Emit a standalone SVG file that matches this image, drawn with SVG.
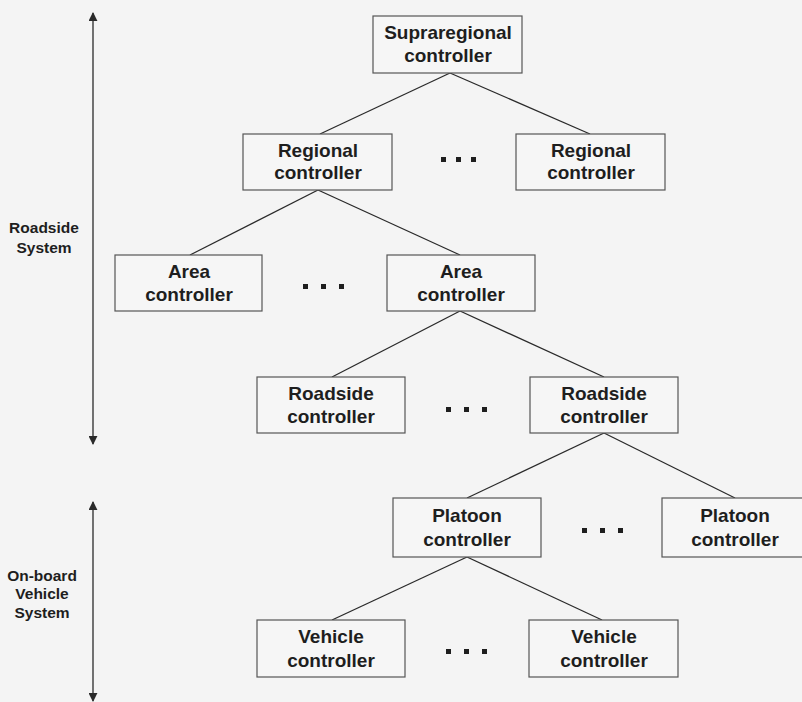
<svg xmlns="http://www.w3.org/2000/svg" width="802" height="702" viewBox="0 0 802 702">
  <defs>
    <marker id="head" viewBox="0 0 10 10" refX="9" refY="5" markerWidth="9" markerHeight="9" markerUnits="userSpaceOnUse" orient="auto-start-reverse">
      <path d="M0,0 L10,5 L0,10 z" fill="#2a2a2a"/>
    </marker>
    <style>
      .box { fill: #f6f6f6; stroke: #555; stroke-width: 1.2; }
      .lbl { font-family: "Liberation Sans", Arial, sans-serif; font-weight: bold; font-size: 19px; fill: #1e1e1e; text-anchor: middle; }
      .side { font-family: "Liberation Sans", Arial, sans-serif; font-weight: bold; font-size: 15.5px; fill: #1e1e1e; text-anchor: middle; }
      .dots { fill: #1e1e1e; }
      .link { stroke: #2a2a2a; stroke-width: 1.3; fill: none; }
      .span { stroke: #2a2a2a; stroke-width: 1.3; fill: none; marker-start: url(#head); marker-end: url(#head); }
    </style>
  </defs>

  <rect width="802" height="702" fill="#f4f4f4"/>

  <!-- tree edges -->
  <g id="connectors">
    <line class="link" x1="450" y1="73" x2="320" y2="134"/>
    <line class="link" x1="450" y1="73" x2="590" y2="134"/>
    <line class="link" x1="318" y1="190" x2="190" y2="255"/>
    <line class="link" x1="318" y1="190" x2="460" y2="255"/>
    <line class="link" x1="460" y1="311" x2="332" y2="377"/>
    <line class="link" x1="460" y1="311" x2="604" y2="377"/>
    <line class="link" x1="604" y1="433" x2="467" y2="498"/>
    <line class="link" x1="604" y1="433" x2="735" y2="498"/>
    <line class="link" x1="467" y1="557" x2="332" y2="620"/>
    <line class="link" x1="467" y1="557" x2="602" y2="620"/>
    <!-- system span arrows -->
    <line class="span" x1="93" y1="13" x2="93" y2="444"/>
    <line class="span" x1="93" y1="502" x2="93" y2="701"/>
  </g>

  <g id="label-roadside">
    <text class="side" x="44" y="233">Roadside</text>
    <text class="side" x="44" y="253">System</text>
  </g>
  <g id="label-onboard">
    <text class="side" x="42" y="581">On-board</text>
    <text class="side" x="42" y="599">Vehicle</text>
    <text class="side" x="42" y="618">System</text>
  </g>

  <g id="supraregional">
    <rect class="box" x="373" y="16" width="149" height="57"/>
    <text class="lbl" x="448" y="39">Supraregional</text>
    <text class="lbl" x="448" y="62">controller</text>
  </g>

  <g id="regional-1">
    <rect class="box" x="243" y="134" width="149" height="56"/>
    <text class="lbl" x="318" y="157">Regional</text>
    <text class="lbl" x="318" y="179">controller</text>
  </g>
  <g id="regional-dots" class="dots">
    <rect x="441" y="157" width="5" height="5"/>
    <rect x="456" y="157" width="5" height="5"/>
    <rect x="471" y="157" width="5" height="5"/>
  </g>
  <g id="regional-n">
    <rect class="box" x="516" y="134" width="149" height="56"/>
    <text class="lbl" x="591" y="157">Regional</text>
    <text class="lbl" x="591" y="179">controller</text>
  </g>

  <g id="area-1">
    <rect class="box" x="115" y="255" width="147" height="56"/>
    <text class="lbl" x="189" y="278">Area</text>
    <text class="lbl" x="189" y="301">controller</text>
  </g>
  <g id="area-dots" class="dots">
    <rect x="303" y="284" width="5" height="5"/>
    <rect x="321" y="284" width="5" height="5"/>
    <rect x="339" y="284" width="5" height="5"/>
  </g>
  <g id="area-n">
    <rect class="box" x="387" y="255" width="148" height="56"/>
    <text class="lbl" x="461" y="278">Area</text>
    <text class="lbl" x="461" y="301">controller</text>
  </g>

  <g id="roadside-1">
    <rect class="box" x="257" y="377" width="148" height="56"/>
    <text class="lbl" x="331" y="400">Roadside</text>
    <text class="lbl" x="331" y="423">controller</text>
  </g>
  <g id="roadside-dots" class="dots">
    <rect x="446" y="407" width="5" height="5"/>
    <rect x="464" y="407" width="5" height="5"/>
    <rect x="482" y="407" width="5" height="5"/>
  </g>
  <g id="roadside-n">
    <rect class="box" x="530" y="377" width="148" height="56"/>
    <text class="lbl" x="604" y="400">Roadside</text>
    <text class="lbl" x="604" y="423">controller</text>
  </g>

  <g id="platoon-1">
    <rect class="box" x="393" y="498" width="148" height="59"/>
    <text class="lbl" x="467" y="522">Platoon</text>
    <text class="lbl" x="467" y="546">controller</text>
  </g>
  <g id="platoon-dots" class="dots">
    <rect x="582" y="528" width="5" height="5"/>
    <rect x="600" y="528" width="5" height="5"/>
    <rect x="618" y="528" width="5" height="5"/>
  </g>
  <g id="platoon-n">
    <rect class="box" x="662" y="498" width="150" height="59"/>
    <text class="lbl" x="735" y="522">Platoon</text>
    <text class="lbl" x="735" y="546">controller</text>
  </g>

  <g id="vehicle-1">
    <rect class="box" x="257" y="620" width="148" height="57"/>
    <text class="lbl" x="331" y="643">Vehicle</text>
    <text class="lbl" x="331" y="667">controller</text>
  </g>
  <g id="vehicle-dots" class="dots">
    <rect x="446" y="649" width="5" height="5"/>
    <rect x="464" y="649" width="5" height="5"/>
    <rect x="482" y="649" width="5" height="5"/>
  </g>
  <g id="vehicle-n">
    <rect class="box" x="529" y="620" width="149" height="57"/>
    <text class="lbl" x="604" y="643">Vehicle</text>
    <text class="lbl" x="604" y="667">controller</text>
  </g>
</svg>
